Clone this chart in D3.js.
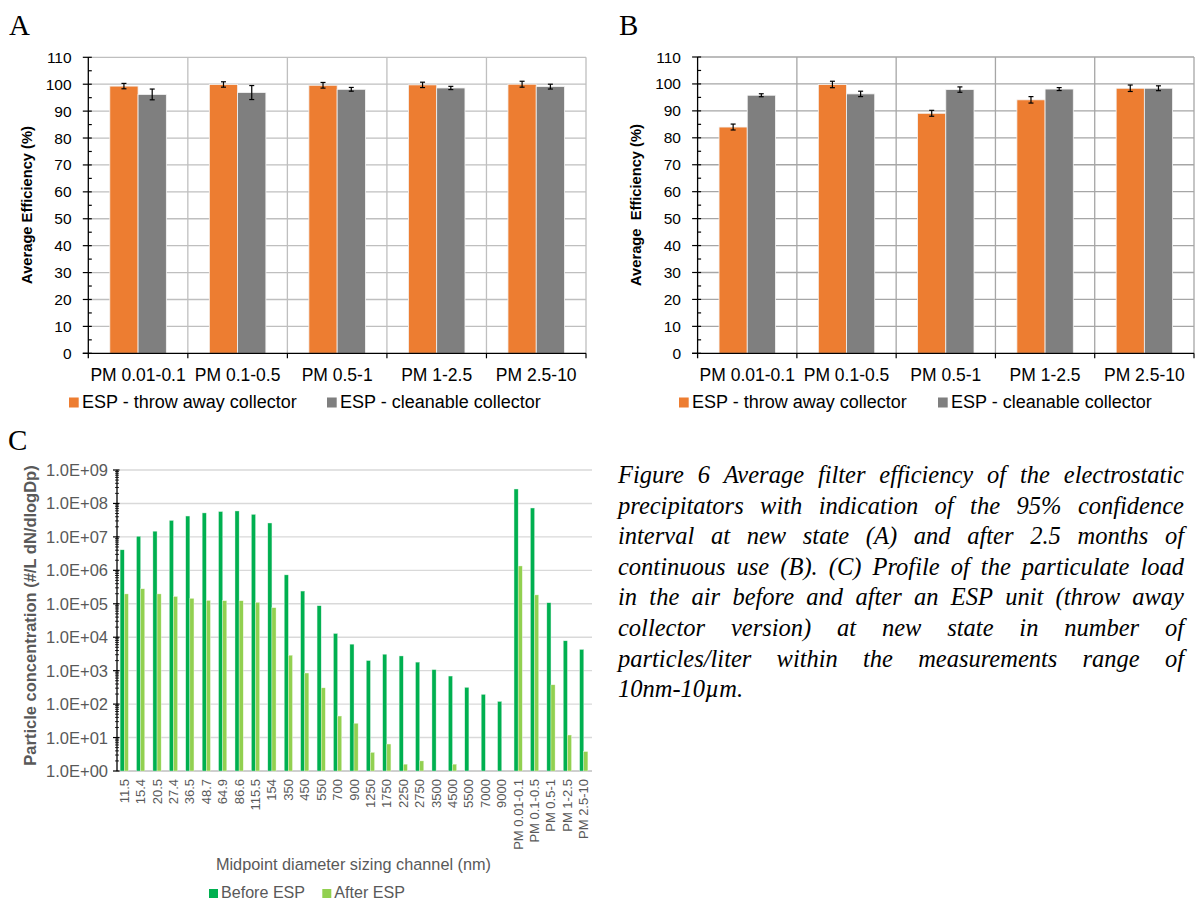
<!DOCTYPE html>
<html>
<head>
<meta charset="utf-8">
<script src="https://cdn.jsdelivr.net/npm/d3@7"></script>
<style>
  body { margin: 0; background: #fff; }
  svg { display: block; }
</style>
</head>
<body>
<svg></svg>
<script>
var svg = d3.select("svg");
var width = 1195;
var height = 902;
svg.attr("width", width).attr("height", height);

var sans = "'Liberation Sans', Arial, sans-serif";
var serif = "'Liberation Serif', 'Times New Roman', serif";

// panels A and B : average efficiency per PM fraction
var pmCats = ["PM 0.01-0.1", "PM 0.1-0.5", "PM 0.5-1", "PM 1-2.5", "PM 2.5-10"];
var seriesNames = ["ESP - throw away collector", "ESP - cleanable collector"];
var effTicks = [0, 10, 20, 30, 40, 50, 60, 70, 80, 90, 100, 110];

var aThrow = [99.3, 99.9, 99.6, 99.75, 100.0];
var aThrowErr = [1.0, 1.0, 1.05, 1.0, 1.1];
var aClean = [96.2, 96.9, 98.1, 98.6, 99.1];
var aCleanErr = [2.0, 2.6, 0.7, 0.6, 0.9];

var bThrow = [84.0, 99.8, 89.1, 94.1, 98.4];
var bThrowErr = [1.1, 1.2, 1.1, 1.2, 1.2];
var bClean = [95.8, 96.3, 97.9, 98.1, 98.4];
var bCleanErr = [0.55, 1.0, 1.0, 0.55, 0.9];

// panel C : particle concentration before / after ESP
var sizeChannels = ["11.5", "15.4", "20.5", "27.4", "36.5", "48.7", "64.9", "86.6", "115.5", "154",
  "350", "450", "550", "700", "900", "1250", "1750", "2250", "2750", "3500",
  "4500", "5500", "7000", "9000",
  "PM 0.01-0.1", "PM 0.1-0.5", "PM 0.5-1", "PM 1-2.5", "PM 2.5-10"];
var beforeESP = [4.1e6, 1.04e7, 1.48e7, 3.1e7, 4.2e7, 5.2e7, 5.7e7, 5.95e7, 4.7e7, 2.6e7,
  7.3e5, 2.4e5, 8.7e4, 1.29e4, 6.2e3, 2.0e3, 3.1e3, 2.75e3, 1.8e3, 1.07e3,
  690, 316, 195, 120,
  2.7e8, 7.3e7, 1.07e5, 7.8e3, 4.3e3];
var afterESP = [1.97e5, 2.8e5, 1.97e5, 1.65e5, 1.45e5, 1.26e5, 1.23e5, 1.23e5, 1.1e5, 7.6e4,
  2.9e3, 850, 306, 44, 26.7, 3.6, 6.4, 1.6, 2.0, null,
  1.6, null, null, null,
  1.35e6, 1.84e5, 377, 11.9, 3.8];
var concTicks = [1e0, 1e1, 1e2, 1e3, 1e4, 1e5, 1e6, 1e7, 1e8, 1e9];
var concSeries = ["Before ESP", "After ESP"];

var captionLines = [
  "Figure 6 Average filter efficiency of the electrostatic",
  "precipitators with indication of the 95% confidence",
  "interval at new state (A) and after 2.5 months of",
  "continuous use (B). (C) Profile of the particulate load",
  "in the air before and after an ESP unit (throw away",
  "collector version) at new state in number of",
  "particles/liter within the measurements range of",
  "10nm-10\u00b5m."
];

var orange = "#ed7d31";
var grey = "#7f7f7f";
var darkGreen = "#00b050";
var lightGreen = "#92d050";

function drawEffPanel(p) {
  var g = svg.append("g");

  var x = d3.scaleBand().domain(pmCats).range([p.left, p.right]);
  var y = d3.scaleLinear().domain([0, 110]).range([p.bottom, p.top]);
  var bw = x.bandwidth();
  var barW = bw * 0.284;

  // horizontal grid
  g.selectAll(".hgrid")
   .data(effTicks.filter(function(d) { return d > 0; }))
   .enter().append("line")
   .attr("x1", p.left).attr("x2", p.right)
   .attr("y1", function(d) { return y(d); })
   .attr("y2", function(d) { return y(d); })
   .attr("stroke", p.grid).attr("stroke-width", 1.3);

  // vertical grid at category borders
  var borders = pmCats.map(function(c) { return x(c) + bw; });
  g.selectAll(".vgrid")
   .data(borders)
   .enter().append("line")
   .attr("x1", function(d) { return d; }).attr("x2", function(d) { return d; })
   .attr("y1", p.top).attr("y2", p.bottom)
   .attr("stroke", p.grid).attr("stroke-width", 1.3);

  var series = [
    { vals: p.s1, errs: p.e1, color: orange, off: -barW },
    { vals: p.s2, errs: p.e2, color: grey, off: 0 }
  ];

  series.forEach(function(s) {
    g.selectAll(null)
     .data(pmCats)
     .enter().append("rect")
     .attr("x", function(c) { return x(c) + bw / 2 + s.off; })
     .attr("y", function(c, i) { return y(s.vals[i]); })
     .attr("width", barW)
     .attr("height", function(c, i) { return y(0) - y(s.vals[i]); })
     .attr("fill", s.color)
     .attr("stroke", "#f4f4f4").attr("stroke-width", 0.8);
  });

  // error bars
  series.forEach(function(s) {
    pmCats.forEach(function(c, i) {
      var cx = x(c) + bw / 2 + s.off + barW / 2;
      var hi = y(s.vals[i] + s.errs[i]);
      var lo = y(s.vals[i] - s.errs[i]);
      g.append("line").attr("x1", cx).attr("x2", cx).attr("y1", hi).attr("y2", lo)
       .attr("stroke", "#000").attr("stroke-width", 1.2);
      [hi, lo].forEach(function(yy) {
        g.append("line").attr("x1", cx - 2.5).attr("x2", cx + 2.5).attr("y1", yy).attr("y2", yy)
         .attr("stroke", "#000").attr("stroke-width", 1.2);
      });
    });
  });

  // y axis with major ticks crossing, minor ticks inside
  g.append("line").attr("x1", p.left).attr("x2", p.left).attr("y1", p.top).attr("y2", p.bottom + 5)
   .attr("stroke", "#000").attr("stroke-width", 1.3);
  g.selectAll(".maj").data(effTicks).enter().append("line")
   .attr("x1", p.left - 5.5).attr("x2", p.left + 3.5)
   .attr("y1", function(d) { return y(d); }).attr("y2", function(d) { return y(d); })
   .attr("stroke", "#000").attr("stroke-width", 1.2);
  g.selectAll(".min").data(d3.range(5, 110, 10)).enter().append("line")
   .attr("x1", p.left).attr("x2", p.left + 3.5)
   .attr("y1", function(d) { return y(d); }).attr("y2", function(d) { return y(d); })
   .attr("stroke", "#000").attr("stroke-width", 1.2);
  g.selectAll(".ylab").data(effTicks).enter().append("text")
   .attr("x", p.labelRight).attr("y", function(d) { return y(d) + 5.5; })
   .attr("text-anchor", "end")
   .attr("font-family", sans).attr("font-size", 15.5).attr("fill", "#000")
   .text(function(d) { return d; });

  // x axis
  g.append("line").attr("x1", p.left - 5.5).attr("x2", p.right).attr("y1", p.bottom).attr("y2", p.bottom)
   .attr("stroke", "#000").attr("stroke-width", 1.3);
  g.selectAll(".xt").data(borders).enter().append("line")
   .attr("x1", function(d) { return d; }).attr("x2", function(d) { return d; })
   .attr("y1", p.bottom).attr("y2", p.bottom + 5)
   .attr("stroke", "#000").attr("stroke-width", 1.2);
  g.selectAll(".xlab").data(pmCats).enter().append("text")
   .attr("x", function(c) { return x(c) + bw / 2; })
   .attr("y", 381)
   .attr("text-anchor", "middle")
   .attr("font-family", sans).attr("font-size", 17.5).attr("fill", "#000")
   .text(function(c) { return c; });

  // y title
  g.append("text")
   .attr("transform", "translate(" + p.titleX + ",205) rotate(-90)")
   .attr("text-anchor", "middle")
   .attr("font-family", sans).attr("font-size", 14.7).attr("font-weight", "bold")
   .attr("xml:space", "preserve")
   .text(p.title);

  // legend
  [orange, grey].forEach(function(col, i) {
    g.append("rect").attr("x", p.legX[i]).attr("y", 397.5).attr("width", 9.7).attr("height", 10)
     .attr("fill", col);
    g.append("text").attr("x", p.legX[i] + 13).attr("y", 408)
     .attr("font-family", sans).attr("font-size", 18).attr("fill", "#000")
     .text(seriesNames[i]);
  });

  // panel letter
  svg.append("text").attr("x", p.letterX).attr("y", 35)
   .attr("font-family", serif).attr("font-size", 29).attr("fill", "#000")
   .text(p.letter);
}

drawEffPanel({
  left: 88.3, right: 586, top: 57.3, bottom: 353.3,
  s1: aThrow, e1: aThrowErr, s2: aClean, e2: aCleanErr,
  grid: "#bfbfbf", labelRight: 71.6, titleX: 32,
  title: "Average Efficiency (%)", legX: [69, 327], letter: "A", letterX: 9
});

drawEffPanel({
  left: 697.6, right: 1194, top: 57, bottom: 353.3,
  s1: bThrow, e1: bThrowErr, s2: bClean, e2: bCleanErr,
  grid: "#a6a6a6", labelRight: 681, titleX: 641,
  title: "Average  Efficiency (%)", legX: [679, 938], letter: "B", letterX: 619
});

// ---- panel C ----
(function() {
  var g = svg.append("g");
  var left = 116, right = 592, top = 470, bottom = 771;
  var x = d3.scaleBand().domain(sizeChannels).range([left, right]);
  var y = d3.scaleLog().domain([1, 1e9]).range([bottom, top]);
  var bw = x.bandwidth();
  var barW = 4.1;
  var txt = "#595959";

  g.selectAll(".grid").data(concTicks).enter().append("line")
   .attr("x1", left).attr("x2", right)
   .attr("y1", function(d) { return y(d); }).attr("y2", function(d) { return y(d); })
   .attr("stroke", function(d) { return d === 1 ? "#bfbfbf" : "#d9d9d9"; })
   .attr("stroke-width", 1.4);

  g.selectAll(".before").data(sizeChannels).enter().append("rect")
   .attr("x", function(c) { return x(c) + bw / 2 - barW; })
   .attr("y", function(c, i) { return y(beforeESP[i]); })
   .attr("width", barW)
   .attr("height", function(c, i) { return bottom - y(beforeESP[i]); })
   .attr("fill", darkGreen).attr("stroke", "#d8f0e0").attr("stroke-width", 0.4);

  var after = sizeChannels.map(function(c, i) { return { c: c, v: afterESP[i] }; })
                          .filter(function(d) { return d.v !== null; });
  g.selectAll(".after").data(after).enter().append("rect")
   .attr("x", function(d) { return x(d.c) + bw / 2; })
   .attr("y", function(d) { return y(d.v); })
   .attr("width", barW)
   .attr("height", function(d) { return bottom - y(d.v); })
   .attr("fill", lightGreen).attr("stroke", "#eef8e0").attr("stroke-width", 0.4);

  // y axis
  var ax = left + 1;
  g.append("line").attr("x1", ax).attr("x2", ax).attr("y1", top).attr("y2", bottom)
   .attr("stroke", "#000").attr("stroke-width", 1.3);
  var minor = [];
  for (var k = 0; k < 9; k++) {
    for (var m = 2; m < 10; m++) minor.push(m * Math.pow(10, k));
  }
  g.selectAll(".minor").data(minor).enter().append("line")
   .attr("x1", ax - 2).attr("x2", ax + 2)
   .attr("y1", function(d) { return y(d); }).attr("y2", function(d) { return y(d); })
   .attr("stroke", "#000").attr("stroke-width", 0.8);
  g.selectAll(".major").data(concTicks).enter().append("line")
   .attr("x1", ax - 4).attr("x2", ax + 2.5)
   .attr("y1", function(d) { return y(d); }).attr("y2", function(d) { return y(d); })
   .attr("stroke", "#000").attr("stroke-width", 1.2);
  g.selectAll(".ylab").data(concTicks).enter().append("text")
   .attr("x", 108).attr("y", function(d) { return y(d) + 6; })
   .attr("text-anchor", "end")
   .attr("font-family", sans).attr("font-size", 16.5).attr("fill", txt)
   .text(function(d) {
     var e = Math.round(Math.log10(d));
     return "1.0E+" + (e < 10 ? "0" + e : e);
   });

  // x labels, rotated
  g.selectAll(".xlab").data(sizeChannels).enter().append("text")
   .attr("transform", function(c) { return "translate(" + (x(c) + bw / 2 + 4.5) + ",779) rotate(-90)"; })
   .attr("text-anchor", "end")
   .attr("font-family", sans).attr("font-size", 13).attr("fill", txt)
   .text(function(c) { return c; });

  g.append("text").attr("x", 353.5).attr("y", 870)
   .attr("text-anchor", "middle")
   .attr("font-family", sans).attr("font-size", 16.3).attr("fill", txt)
   .text("Midpoint diameter sizing channel (nm)");

  g.append("text")
   .attr("transform", "translate(35.5,615.5) rotate(-90)")
   .attr("text-anchor", "middle")
   .attr("font-family", sans).attr("font-size", 16.5).attr("font-weight", "bold").attr("fill", txt)
   .text("Particle concentration (#/L dN/dlogDp)");

  var legX = [209, 322.3];
  [darkGreen, lightGreen].forEach(function(col, i) {
    g.append("rect").attr("x", legX[i]).attr("y", 889).attr("width", 9).attr("height", 9).attr("fill", col);
    g.append("text").attr("x", legX[i] + 12).attr("y", 898)
     .attr("font-family", sans).attr("font-size", 16.1).attr("fill", txt)
     .text(concSeries[i]);
  });

  svg.append("text").attr("x", 8).attr("y", 450)
   .attr("font-family", serif).attr("font-size", 29).attr("fill", "#000")
   .text("C");
})();

// ---- caption, justified ----
(function() {
  var capLeft = 618, capRight = 1184;
  var fs = 24.5;
  var g = svg.append("g")
   .attr("font-family", "'Liberation Serif', serif")
   .attr("font-style", "italic").attr("font-size", fs).attr("fill", "#000");

  captionLines.forEach(function(line, i) {
    var yy = 483 + i * 30.6;
    var words = line.split(" ");
    var nodes = words.map(function(w) { return g.append("text").attr("y", yy).text(w); });
    var widths = nodes.map(function(n) { return n.node().getComputedTextLength(); });
    var last = i === captionLines.length - 1;
    var gap = last ? fs * 0.25 : (capRight - capLeft - d3.sum(widths)) / (words.length - 1);
    gap = Math.max(gap, fs * 0.12);
    var xx = capLeft;
    nodes.forEach(function(n, j) {
      n.attr("x", xx);
      xx += widths[j] + gap;
    });
  });
})();
</script>
</body>
</html>
